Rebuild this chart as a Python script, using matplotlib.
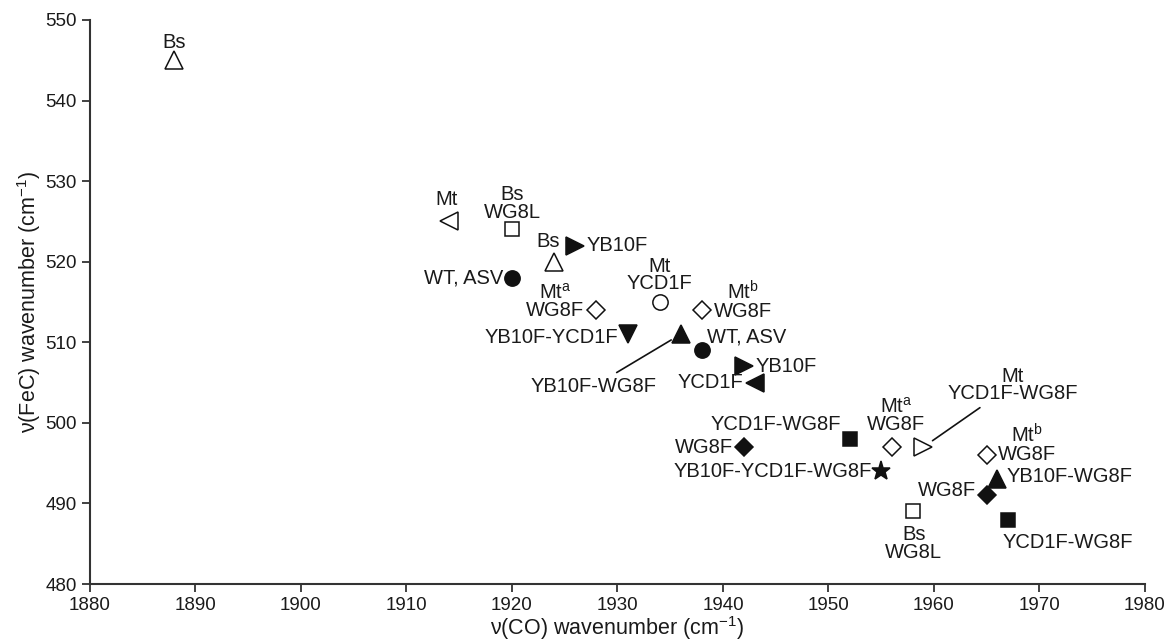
import matplotlib
matplotlib.use("Agg")
import matplotlib.pyplot as plt

plt.rcParams['font.family'] = ['Liberation Sans', 'DejaVu Sans']
plt.rcParams['mathtext.fontset'] = 'custom'
plt.rcParams['mathtext.rm'] = 'Liberation Sans'
plt.rcParams['mathtext.it'] = 'Liberation Sans'

# data: nu(CO), nu(FeC), marker, filled, label
co = [1888, 1914, 1920, 1924, 1926, 1920, 1928, 1934, 1938, 1931, 1936, 1938,
      1942, 1943, 1952, 1942, 1956, 1959, 1955, 1958, 1965, 1966, 1965, 1967]
fec = [545, 525, 524, 520, 522, 518, 514, 515, 514, 511, 511, 509,
       507, 505, 498, 497, 497, 497, 494, 489, 496, 493, 491, 488]
markers = ['^', '<', 's', '^', '>', 'o', 'D', 'o', 'D', 'v', '^', 'o',
           '>', '<', 's', 'D', 'D', '>', '*', 's', 'D', '^', 'D', 's']
filled = [False, False, False, False, True, True, False, False, False, True, True, True,
          True, True, True, True, False, False, True, False, False, True, True, True]
labels = ['Bs', 'Mt', 'Bs\nWG8L', 'Bs', 'YB10F', 'WT, ASV', 'Mt$^{\\mathrm{a}}$\nWG8F',
          'Mt\nYCD1F', 'Mt$^{\\mathrm{b}}$\nWG8F', 'YB10F-YCD1F', 'YB10F-WG8F', 'WT, ASV',
          'YB10F', 'YCD1F', 'YCD1F-WG8F', 'WG8F', 'Mt$^{\\mathrm{a}}$\nWG8F',
          'Mt\nYCD1F-WG8F', 'YB10F-YCD1F-WG8F', 'Bs\nWG8L', 'Mt$^{\\mathrm{b}}$\nWG8F',
          'YB10F-WG8F', 'WG8F', 'YCD1F-WG8F']

# label placement (offset in pixels, horizontal alignment, leader line)
offsets = [(0, 18), (-2, 22), (0, 26), (-6, 20), (11, 0), (-9, 0), (-12, 9),
           (0, 27), (12, 9), (-10, -3), (-87, -52), (5, 13),
           (12, 0), (-11, 0), (-8, 14), (-11, 0), (4, 32), (89, 62),
           (-9, 0), (1, -32), (11, 11), (9, 3), (-11, 5), (-5, -23)]
has = ['center', 'center', 'center', 'center', 'left', 'right', 'right',
       'center', 'left', 'right', 'center', 'left',
       'left', 'right', 'right', 'right', 'center', 'center',
       'right', 'center', 'left', 'left', 'right', 'left']
leader = [False] * 24
leader[10] = True
leader[17] = True

sizes = {'^': 13, 'v': 13, '<': 13, '>': 13, 'o': 11, 's': 10, 'D': 9, '*': 14}

fig = plt.figure(figsize=(11.67, 6.41), dpi=100)
ax = fig.add_axes([0.0771, 0.0889, 0.9040, 0.8799])

for i in range(len(co)):
    ax.plot(co[i], fec[i], marker=markers[i], ms=sizes[markers[i]],
            mfc='#111111' if filled[i] else 'white', mec='#111111', mew=1.1,
            linestyle='none', zorder=3)
    kw = {}
    if leader[i]:
        kw['arrowprops'] = dict(arrowstyle='-', color='#111111', lw=1.2,
                                shrinkA=2, shrinkB=8)
    ax.annotate(labels[i], (co[i], fec[i]), xytext=offsets[i],
                textcoords='offset pixels', ha=has[i], va='center',
                multialignment='center', fontsize=14.5, color='#1a1a1a',
                linespacing=0.9, **kw)

ax.set_xlim(1880, 1980)
ax.set_ylim(480, 550)
ax.set_xticks(range(1880, 1981, 10))
ax.set_yticks(range(480, 551, 10))
for s in ['top', 'right']:
    ax.spines[s].set_visible(False)
for s in ['left', 'bottom']:
    ax.spines[s].set_linewidth(1.5)
    ax.spines[s].set_color('#333333')
ax.tick_params(direction='out', length=6, width=1.3, color='#333333',
               labelsize=13.5, labelcolor='#1a1a1a')
ax.set_xlabel('ν(CO) wavenumber (cm$^{\\mathrm{-1}}$)', fontsize=15.5, color='#1a1a1a',
              labelpad=0)
ax.set_ylabel('ν(FeC) wavenumber (cm$^{\\mathrm{-1}}$)', fontsize=15.5, color='#1a1a1a',
              labelpad=2)

fig.savefig('out.png', dpi=100)
